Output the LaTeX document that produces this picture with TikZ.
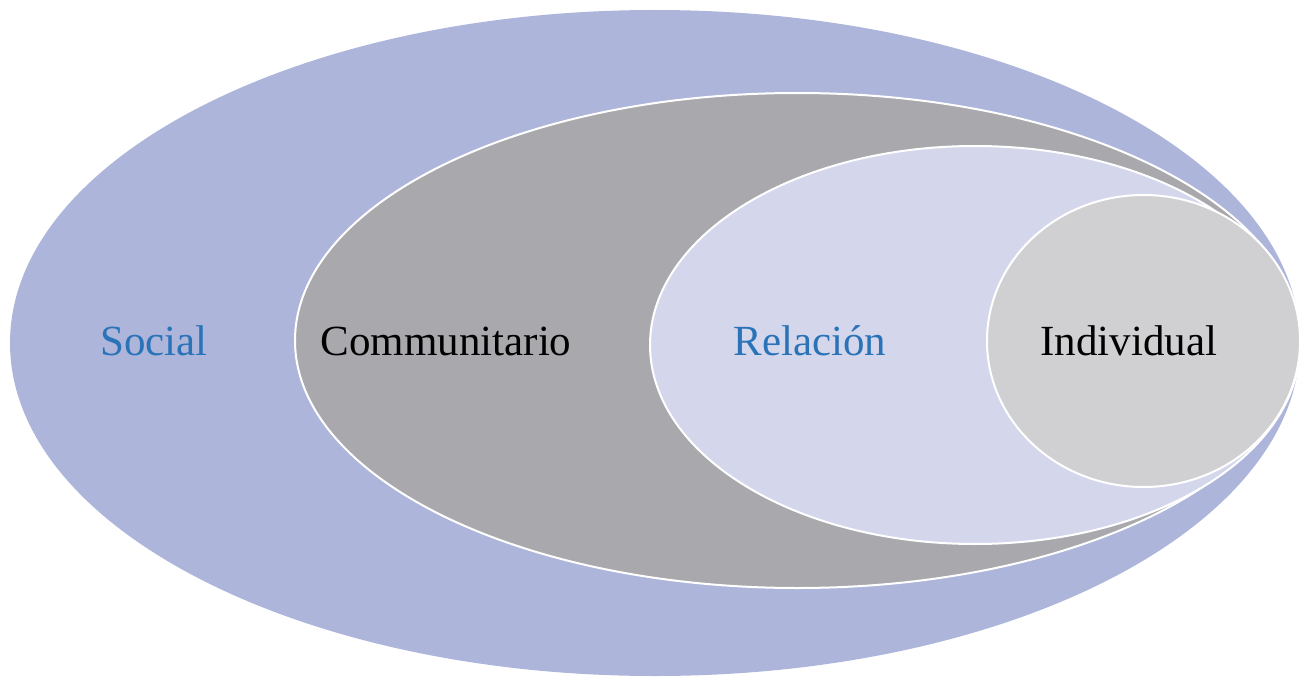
\documentclass[tikz,border=0pt]{standalone}
\usepackage{fontspec}
\setmainfont{Liberation Serif}
\usetikzlibrary{shapes.geometric}
\definecolor{outerc}{RGB}{173,181,218}
\definecolor{grayc}{RGB}{169,168,172}
\definecolor{lavc}{RGB}{212,215,236}
\definecolor{lgrayc}{RGB}{208,208,210}
\definecolor{bluet}{RGB}{42,115,184}
\tikzset{
  ring/.style={ellipse, inner sep=0pt, outer sep=0pt},
  inner ring/.style={ring, draw=white, line width=2pt},
  lbl/.style={font=\fontsize{43}{50}\selectfont, anchor=base, inner sep=0pt}
}
\begin{document}
\begin{tikzpicture}[x=1pt,y=-1pt]
\useasboundingbox (0,0) rectangle (1307,677);
\node[ring, fill=outerc, minimum width=1290pt, minimum height=666pt] (social) at (655,343) {};
\node[inner ring, fill=grayc, minimum width=1005pt, minimum height=495pt] (comm) at (797.5,340.5) {};
\node[inner ring, fill=lavc, minimum width=650pt, minimum height=398pt] (rel) at (975,345) {};
\node[inner ring, fill=lgrayc, minimum width=313pt, minimum height=292pt] (ind) at (1143.5,341) {};
\node[lbl, text=bluet] (tsocial) at (154,355) {Social};
\node[lbl, text=black] (tcomm) at (446,355) {Communitario};
\node[lbl, text=bluet] (trel) at (810,355) {Relación};
\node[lbl, text=black] (tind) at (1129,355) {Individual};
\end{tikzpicture}
\end{document}
